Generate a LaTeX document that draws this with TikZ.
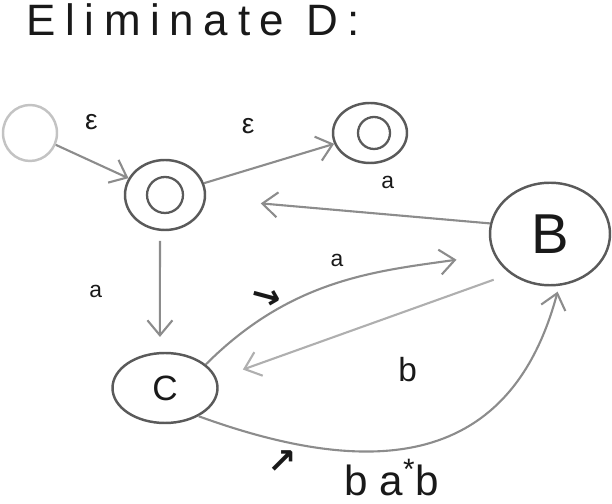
\documentclass[tikz,border=0pt]{standalone}
\usepackage{fontspec}
\setmainfont{Liberation Sans}
\newfontfamily\markfont{DejaVu Sans}
\definecolor{skRing}{RGB}{90, 90, 90}
\definecolor{skEdge}{RGB}{140, 140, 140}
\definecolor{skPale}{RGB}{175, 175, 175}
\definecolor{skFaint}{RGB}{195, 195, 195}
\definecolor{skInk}{RGB}{25, 25, 25}
\usetikzlibrary{shapes.geometric, arrows.meta, positioning}
\tikzset{
  state/.style={ellipse, draw=#1, line width=1.4pt, inner sep=0pt, text=skInk},
  state/.default=skRing,
  ring/.style={draw=skRing, line width=1.3pt},
  edge/.style={-{Straight Barb[length=3mm, width=5mm]}, line width=1.2pt, #1},
  edge/.default=skEdge,
  lbl/.style={font=\fontsize{#1}{#1}\selectfont, text=skInk, inner sep=1pt},
  lbl/.default=13,
  tick/.style={font=\markfont\bfseries\fontsize{#1}{#1}\selectfont, text=skInk, inner sep=0pt},
  tick/.default=20,
}

\begin{document}
\begin{tikzpicture}
  \useasboundingbox (0, 0) rectangle (12.24, 10.08);

  % Heading
  \node[lbl=25, anchor=base west, inner sep=0pt] (title) at (0.52, 9.36)
    {\addfontfeature{LetterSpace=22}Eliminate D:};

  % States
  \node[state=skFaint, minimum width=1.08cm, minimum height=1.12cm] (start) at (0.6, 7.42) {};
  \node[state, minimum width=1.6cm, minimum height=1.4cm] (A) at (3.3, 6.18) {};
  \node[state, minimum width=1.48cm, minimum height=1.2cm] (F) at (7.4, 7.42) {};
  \node[state, minimum width=2.4cm, minimum height=2.05cm, font=\fontsize{32}{32}\selectfont] (B) at (11.0, 5.4) {B};
  \node[state, minimum width=2.1cm, minimum height=1.4cm, font=\fontsize{20}{20}\selectfont] (C) at (3.3, 2.32) {C};

  % Inner rings
  \draw[ring] (A.center) circle (0.36);
  \draw[ring] (F.center) ++(0.08, 0) circle (0.32);

  % Arrows
  \draw[edge] (start) -- node[lbl=16, above=16pt, pos=.49] (e1) {ε} (A);
  \draw[edge] (A) -- node[lbl=16, above=19pt, pos=.34] (e2) {ε} (F);
  \draw[edge, shorten >=1.1cm] (B.170) -- node[lbl, above=13pt, pos=.36] (l1) {a} (A);
  \draw[edge, shorten <=0.2cm, shorten >=0.3cm] (A.262) -- node[lbl, left=1.1cm] (l2) {a} (C.98);
  \draw[edge, shorten >=0.75cm] (C.30) to[out=45, in=188]
    node[lbl, above=8pt, pos=.5] (l3) {a} (B.200);
  \draw[edge=skPale, shorten <=0.35cm, shorten >=0.55cm] (B.225) --
    node[lbl=19, below=25pt, pos=.35] (l4) {b} (C.10);
  \draw[edge, shorten >=0.12cm] (C.-40) to[out=-20, in=-105, looseness=1.25]
    node[lbl=24, below=4pt, pos=.41] (l5) {b a\textsuperscript{*}b} (B.-80);

  % Direction marks
  \node[tick, rotate=-15] (m1) at (5.32, 4.12) {→};
  \node[tick] (m2) at (5.64, 0.84) {↗};
\end{tikzpicture}
\end{document}
